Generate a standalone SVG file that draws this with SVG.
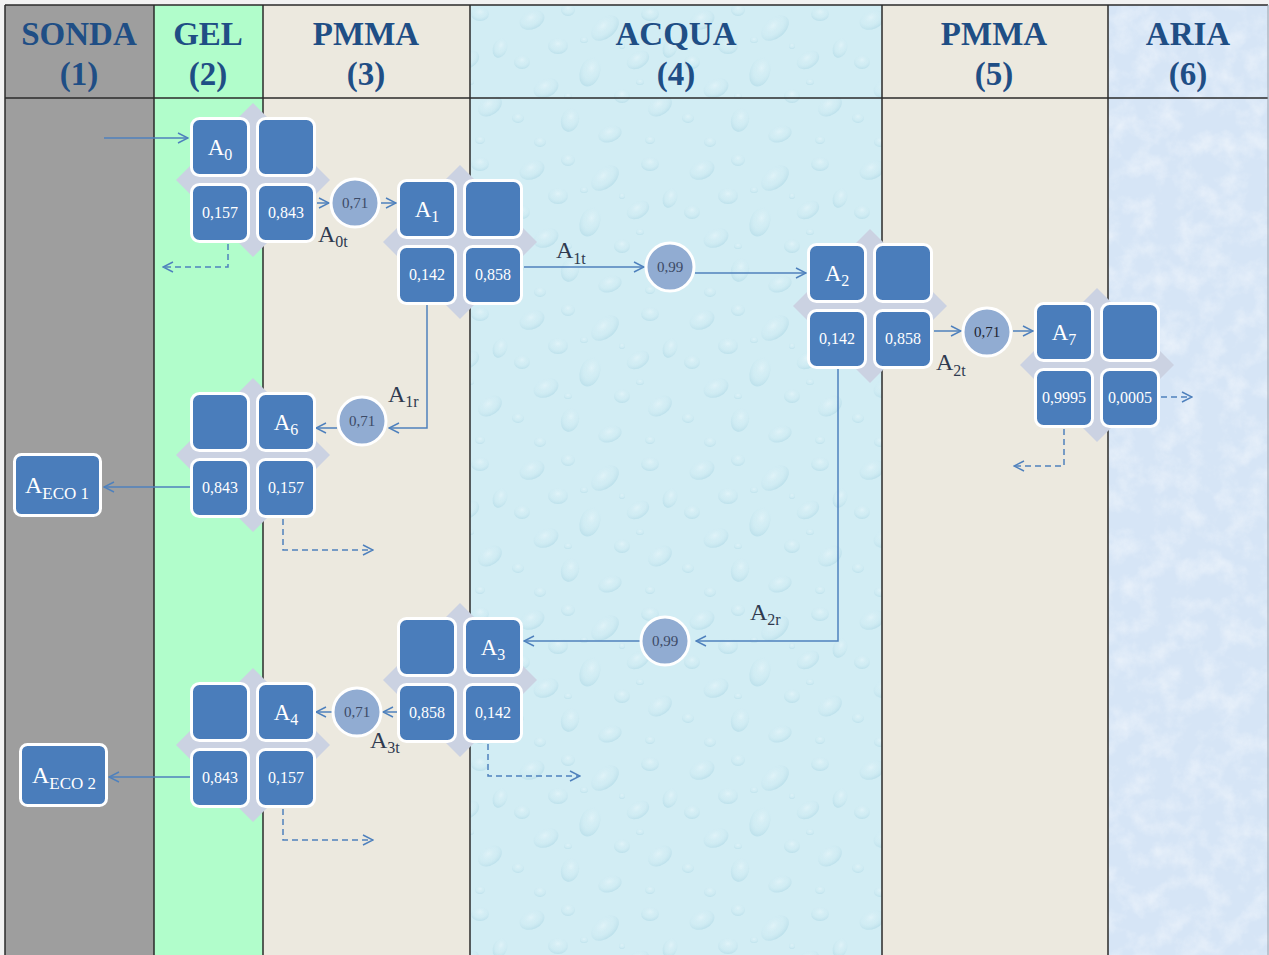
<svg xmlns="http://www.w3.org/2000/svg" width="1269" height="955" viewBox="0 0 1269 955">
  <style>
    .hdr { font-family: "Liberation Serif", "Times New Roman", serif; font-weight: bold; font-size: 33px; fill: #1f4e85; text-anchor: middle; }
    .sq { fill: #4a7dbb; stroke: #ffffff; stroke-width: 3; }
    .dia { fill: #cbd2e2; }
    .lbl { font-family: "Liberation Serif", "Times New Roman", serif; font-size: 23px; fill: #ffffff; text-anchor: middle; }
    .num { font-family: "Liberation Serif", "Times New Roman", serif; font-size: 16px; fill: #ffffff; text-anchor: middle; }
    .circ { fill: #91acd2; stroke: #ffffff; stroke-width: 3; }
    .ctext { font-family: "Liberation Serif", "Times New Roman", serif; font-size: 15px; fill: #3c4a66; text-anchor: middle; }
    .flow { font-family: "Liberation Serif", "Times New Roman", serif; font-size: 24px; fill: #2f3a4f; }
    .ln { fill: none; stroke: #4f81bd; stroke-width: 1.5; marker-end: url(#arr); }
    .dash { fill: none; stroke: #4f81bd; stroke-width: 1.5; stroke-dasharray: 6 4; marker-end: url(#arr); }
    .grid { stroke: #2b2b2b; stroke-width: 1.5; fill: none; }
    .drop { fill: url(#dropg); }
  </style>
  <defs>
    <marker id="arr" viewBox="0 0 12 12" refX="11" refY="6" markerWidth="12" markerHeight="12" markerUnits="userSpaceOnUse" orient="auto">
      <path d="M1,1 L11,6 L1,11" fill="none" stroke="#4f81bd" stroke-width="1.5"/>
    </marker>
    <radialGradient id="dropg" cx="0.5" cy="0.35" r="0.65">
      <stop offset="0" stop-color="#eef9fc" stop-opacity="0.5"/>
      <stop offset="0.55" stop-color="#cdeaf2" stop-opacity="0.2"/>
      <stop offset="1" stop-color="#a9d5e3" stop-opacity="0.55"/>
    </radialGradient>
    <!-- water droplet texture -->
    <pattern id="drops" width="170" height="150" patternUnits="userSpaceOnUse">
      <ellipse class="drop" cx="22" cy="20" rx="13" ry="9" transform="rotate(-25 22 20)"/>
      <ellipse class="drop" cx="58" cy="10" rx="7" ry="6"/>
      <ellipse class="drop" cx="95" cy="28" rx="16" ry="10" transform="rotate(-40 95 28)"/>
      <ellipse class="drop" cx="140" cy="14" rx="9" ry="7"/>
      <ellipse class="drop" cx="160" cy="48" rx="7" ry="10" transform="rotate(20 160 48)"/>
      <ellipse class="drop" cx="48" cy="46" rx="10" ry="8"/>
      <ellipse class="drop" cx="128" cy="60" rx="12" ry="8" transform="rotate(-30 128 60)"/>
      <ellipse class="drop" cx="12" cy="62" rx="8" ry="7"/>
      <ellipse class="drop" cx="80" cy="72" rx="10" ry="15" transform="rotate(20 80 72)"/>
      <ellipse class="drop" cx="36" cy="88" rx="13" ry="9" transform="rotate(-25 36 88)"/>
      <ellipse class="drop" cx="112" cy="96" rx="8" ry="7"/>
      <ellipse class="drop" cx="150" cy="106" rx="13" ry="9" transform="rotate(-35 150 106)"/>
      <ellipse class="drop" cx="8" cy="118" rx="6" ry="5"/>
      <ellipse class="drop" cx="60" cy="120" rx="9" ry="12" transform="rotate(15 60 120)"/>
      <ellipse class="drop" cx="100" cy="134" rx="12" ry="8" transform="rotate(-20 100 134)"/>
      <ellipse class="drop" cx="140" cy="140" rx="5" ry="4"/>
      <ellipse class="drop" cx="30" cy="142" rx="6" ry="5"/>
      <ellipse class="drop" cx="74" cy="40" rx="4" ry="3"/>
      <ellipse class="drop" cx="112" cy="46" rx="3" ry="3"/>
      <ellipse class="drop" cx="58" cy="96" rx="4" ry="3"/>
      <ellipse class="drop" cx="130" cy="82" rx="4" ry="3"/>
    </pattern>
    <filter id="mottle" x="0" y="0" width="100%" height="100%">
      <feTurbulence type="fractalNoise" baseFrequency="0.045" numOctaves="4" seed="5"/>
      <feColorMatrix type="matrix" values="0 0 0 0 1  0 0 0 0 1  0 0 0 0 1  1.6 0 0 0 -0.65"/>
    </filter>
  </defs>

  <!-- page ground -->
  <rect x="0" y="0" width="1269" height="955" fill="#f2f2f2"/>

  <!-- layer columns -->
  <g id="columns">
    <rect x="5" y="5" width="149" height="950" fill="#9e9e9e"/>
    <rect x="154" y="5" width="109" height="950" fill="#b1fdcb"/>
    <rect x="263" y="5" width="207" height="950" fill="#ece9df"/>
    <rect x="470" y="5" width="412" height="950" fill="#d2edf4"/>
    <rect x="470" y="5" width="412" height="950" fill="url(#drops)"/>
    <rect x="882" y="5" width="226" height="950" fill="#ece9df"/>
    <rect x="1108" y="5" width="161" height="950" fill="#d6e5f6"/>
    <rect x="1108" y="5" width="161" height="950" filter="url(#mottle)" opacity="0.55"/>
    <path class="grid" d="M5,5 H1268 M5,98 H1268 M5,5 V955 M154,5 V955 M263,5 V955 M470,5 V955 M882,5 V955 M1108,5 V955"/>
    <path d="M1268,5 V955" stroke="#9aa0a8" stroke-width="1"/>
  </g>

  <!-- column headings -->
  <g id="headers">
    <text class="hdr" x="79" y="45">SONDA</text>
    <text class="hdr" x="79" y="85">(1)</text>
    <text class="hdr" x="208" y="45">GEL</text>
    <text class="hdr" x="208" y="85">(2)</text>
    <text class="hdr" x="366" y="45">PMMA</text>
    <text class="hdr" x="366" y="85">(3)</text>
    <text class="hdr" x="676" y="45">ACQUA</text>
    <text class="hdr" x="676" y="85">(4)</text>
    <text class="hdr" x="994" y="45">PMMA</text>
    <text class="hdr" x="994" y="85">(5)</text>
    <text class="hdr" x="1188" y="45">ARIA</text>
    <text class="hdr" x="1188" y="85">(6)</text>
  </g>

  <!-- connectors -->
  <g id="connectors">
    <path class="ln" d="M104,138 H188"/>
    <path class="ln" d="M317,203 H329"/>
    <path class="ln" d="M381,203 H396"/>
    <path class="dash" d="M228,244 V267 H163"/>
    <path class="ln" d="M524,267 H644"/>
    <path class="ln" d="M695,273 H806"/>
    <path class="ln" d="M934,331 H961"/>
    <path class="ln" d="M1013,331 H1033"/>
    <path class="dash" d="M1161,397 H1192"/>
    <path class="dash" d="M1064,429 V466 H1014"/>
    <path class="ln" d="M427,305 V428 H389"/>
    <path class="ln" d="M337,428 H316"/>
    <path class="ln" d="M190,487 H104"/>
    <path class="dash" d="M283,519 V550 H373"/>
    <path class="ln" d="M838,369 V641 H696"/>
    <path class="ln" d="M640,641 H524"/>
    <path class="ln" d="M397,712 H383"/>
    <path class="ln" d="M332,712 H316"/>
    <path class="ln" d="M190,777 H109"/>
    <path class="dash" d="M283,809 V840 H373"/>
    <path class="dash" d="M488,744 V776 H580"/>
  </g>

  <!-- connector labels -->
  <g id="flow-labels">
    <text class="flow" x="318" y="242">A<tspan font-size="16" dy="5">0t</tspan></text>
    <text class="flow" x="556" y="258">A<tspan font-size="16" dy="6">1t</tspan></text>
    <text class="flow" x="936" y="370">A<tspan font-size="16" dy="6">2t</tspan></text>
    <text class="flow" x="388" y="402">A<tspan font-size="16" dy="5">1r</tspan></text>
    <text class="flow" x="750" y="620">A<tspan font-size="16" dy="5">2r</tspan></text>
    <text class="flow" x="370" y="748">A<tspan font-size="16" dy="5">3t</tspan></text>
  </g>

  <!-- matrix nodes -->
  <g id="node-a0">
    <polygon class="dia" points="253,103 330,180 253,257 176,180"/>
    <rect class="sq" x="191.5" y="118.5" width="57" height="57" rx="8"/>
    <rect class="sq" x="257.5" y="118.5" width="57" height="57" rx="8"/>
    <rect class="sq" x="191.5" y="184.5" width="57" height="57" rx="8"/>
    <rect class="sq" x="257.5" y="184.5" width="57" height="57" rx="8"/>
    <text class="lbl" x="220" y="155">A<tspan font-size="16" dy="5">0</tspan></text>
    <text class="num" x="220" y="218">0,157</text>
    <text class="num" x="286" y="218">0,843</text>
  </g>

  <g id="node-a1">
    <polygon class="dia" points="460,165 537,242 460,319 383,242"/>
    <rect class="sq" x="398.5" y="180.5" width="57" height="57" rx="8"/>
    <rect class="sq" x="464.5" y="180.5" width="57" height="57" rx="8"/>
    <rect class="sq" x="398.5" y="246.5" width="57" height="57" rx="8"/>
    <rect class="sq" x="464.5" y="246.5" width="57" height="57" rx="8"/>
    <text class="lbl" x="427" y="217">A<tspan font-size="16" dy="5">1</tspan></text>
    <text class="num" x="427" y="280">0,142</text>
    <text class="num" x="493" y="280">0,858</text>
  </g>

  <g id="node-a2">
    <polygon class="dia" points="870,229 947,306 870,383 793,306"/>
    <rect class="sq" x="808.5" y="244.5" width="57" height="57" rx="8"/>
    <rect class="sq" x="874.5" y="244.5" width="57" height="57" rx="8"/>
    <rect class="sq" x="808.5" y="310.5" width="57" height="57" rx="8"/>
    <rect class="sq" x="874.5" y="310.5" width="57" height="57" rx="8"/>
    <text class="lbl" x="837" y="281">A<tspan font-size="16" dy="5">2</tspan></text>
    <text class="num" x="837" y="344">0,142</text>
    <text class="num" x="903" y="344">0,858</text>
  </g>

  <g id="node-a7">
    <polygon class="dia" points="1097,288 1174,365 1097,442 1020,365"/>
    <rect class="sq" x="1035.5" y="303.5" width="57" height="57" rx="8"/>
    <rect class="sq" x="1101.5" y="303.5" width="57" height="57" rx="8"/>
    <rect class="sq" x="1035.5" y="369.5" width="57" height="57" rx="8"/>
    <rect class="sq" x="1101.5" y="369.5" width="57" height="57" rx="8"/>
    <text class="lbl" x="1064" y="340">A<tspan font-size="16" dy="5">7</tspan></text>
    <text class="num" x="1064" y="403" font-size="14.5">0,9995</text>
    <text class="num" x="1130" y="403" font-size="14.5">0,0005</text>
  </g>

  <g id="node-a6">
    <polygon class="dia" points="253,378 330,455 253,532 176,455"/>
    <rect class="sq" x="191.5" y="393.5" width="57" height="57" rx="8"/>
    <rect class="sq" x="257.5" y="393.5" width="57" height="57" rx="8"/>
    <rect class="sq" x="191.5" y="459.5" width="57" height="57" rx="8"/>
    <rect class="sq" x="257.5" y="459.5" width="57" height="57" rx="8"/>
    <text class="lbl" x="286" y="430">A<tspan font-size="16" dy="5">6</tspan></text>
    <text class="num" x="220" y="493">0,843</text>
    <text class="num" x="286" y="493">0,157</text>
  </g>

  <g id="node-a3">
    <polygon class="dia" points="460,603 537,680 460,757 383,680"/>
    <rect class="sq" x="398.5" y="618.5" width="57" height="57" rx="8"/>
    <rect class="sq" x="464.5" y="618.5" width="57" height="57" rx="8"/>
    <rect class="sq" x="398.5" y="684.5" width="57" height="57" rx="8"/>
    <rect class="sq" x="464.5" y="684.5" width="57" height="57" rx="8"/>
    <text class="lbl" x="493" y="655">A<tspan font-size="16" dy="5">3</tspan></text>
    <text class="num" x="427" y="718" font-size="15">0,858</text>
    <text class="num" x="493" y="718">0,142</text>
  </g>

  <g id="node-a4">
    <polygon class="dia" points="253,668 330,745 253,822 176,745"/>
    <rect class="sq" x="191.5" y="683.5" width="57" height="57" rx="8"/>
    <rect class="sq" x="257.5" y="683.5" width="57" height="57" rx="8"/>
    <rect class="sq" x="191.5" y="749.5" width="57" height="57" rx="8"/>
    <rect class="sq" x="257.5" y="749.5" width="57" height="57" rx="8"/>
    <text class="lbl" x="286" y="720">A<tspan font-size="16" dy="5">4</tspan></text>
    <text class="num" x="220" y="783">0,843</text>
    <text class="num" x="286" y="783">0,157</text>
  </g>

  <!-- echo outputs in the probe -->
  <g id="node-aeco1">
    <rect class="sq" x="14.5" y="454.5" width="86" height="61" rx="7"/>
    <text class="flow" x="25" y="493" style="fill:#ffffff">A<tspan font-size="17" dy="6">ECO 1</tspan></text>
  </g>
  <g id="node-aeco2">
    <rect class="sq" x="20.5" y="744.5" width="86" height="61" rx="7"/>
    <text class="flow" x="32" y="783" style="fill:#ffffff">A<tspan font-size="17" dy="6">ECO 2</tspan></text>
  </g>

  <!-- transmission coefficients -->
  <g id="coef-1"><circle class="circ" cx="355" cy="203" r="24"/><text class="ctext" x="355" y="208">0,71</text></g>
  <g id="coef-2"><circle class="circ" cx="670" cy="267" r="24"/><text class="ctext" x="670" y="272">0,99</text></g>
  <g id="coef-3"><circle class="circ" cx="987" cy="332" r="24"/><text class="ctext" x="987" y="337" style="fill:#1e2430">0,71</text></g>
  <g id="coef-4"><circle class="circ" cx="362" cy="421" r="24"/><text class="ctext" x="362" y="426">0,71</text></g>
  <g id="coef-5"><circle class="circ" cx="665" cy="641" r="24"/><text class="ctext" x="665" y="646">0,99</text></g>
  <g id="coef-6"><circle class="circ" cx="357" cy="712" r="24"/><text class="ctext" x="357" y="717">0,71</text></g>
</svg>
